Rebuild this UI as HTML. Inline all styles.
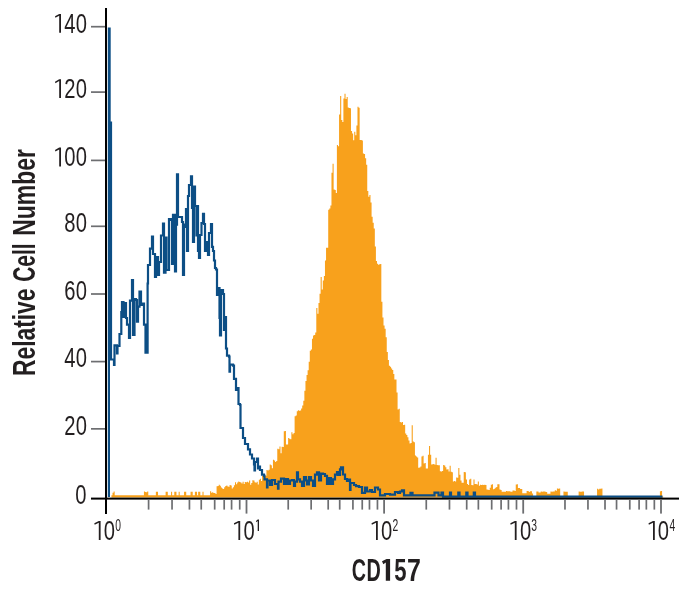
<!DOCTYPE html>
<html><head><meta charset="utf-8"><style>html,body{margin:0;padding:0;background:#fff;width:691px;height:595px;overflow:hidden}svg{display:block;will-change:transform}text{font-family:"Liberation Sans",sans-serif}</style></head><body>
<svg width="691" height="595" viewBox="0 0 691 595">
<rect width="691" height="595" fill="#fff"/>
<path d="M111.42,497.6 V495.3 H112.50 V492.7 H113.59 V491.6 H114.67 V495.3 H115.76 V495.3 H116.84 V495.3 H117.92 V495.3 H119.01 V495.3 H120.09 V495.3 H121.18 V495.3 H122.26 V495.3 H123.34 V495.3 H124.43 V495.3 H125.51 V495.3 H126.60 V495.3 H127.68 V495.3 H128.76 V495.3 H129.85 V495.3 H130.93 V495.3 H132.02 V495.3 H133.10 V495.3 H134.18 V495.3 H135.27 V495.3 H136.35 V495.3 H137.44 V495.3 H138.52 V495.3 H139.60 V495.3 H140.69 V495.3 H141.77 V495.3 H142.86 V495.3 H143.94 V491.5 H145.02 V491.9 H146.11 V492.2 H147.19 V491.5 H148.28 V495.3 H149.36 V495.3 H150.44 V495.3 H151.53 V495.3 H152.61 V495.3 H153.70 V495.3 H154.78 V495.3 H155.86 V491.8 H156.95 V491.8 H158.03 V495.3 H159.12 V495.3 H160.20 V495.3 H161.28 V495.3 H162.37 V495.3 H163.45 V495.3 H164.54 V495.3 H165.62 V491.8 H166.70 V491.8 H167.79 V495.3 H168.87 V495.3 H169.96 V495.3 H171.04 V491.8 H172.12 V495.3 H173.21 V495.3 H174.29 V491.8 H175.38 V491.8 H176.46 V495.3 H177.54 V495.3 H178.63 V491.8 H179.71 V495.3 H180.79 V495.3 H181.88 V495.3 H182.96 V495.3 H184.05 V491.8 H185.13 V491.8 H186.21 V495.3 H187.30 V495.3 H188.38 V495.3 H189.47 V495.3 H190.55 V491.8 H191.63 V491.8 H192.72 V495.3 H193.80 V495.3 H194.89 V491.8 H195.97 V491.8 H197.05 V495.3 H198.14 V491.8 H199.22 V491.8 H200.31 V495.2 H201.39 V495.3 H202.47 V491.8 H203.56 V495.3 H204.64 V495.3 H205.73 V495.3 H206.81 V495.3 H207.89 V495.3 H208.98 V495.3 H210.06 V491.3 H211.15 V492.8 H212.23 V492.2 H213.31 V492.9 H214.40 V492.9 H215.48 V494.1 H216.57 V486.3 H217.65 V485.9 H218.73 V484.8 H219.82 V485.7 H220.90 V487.6 H221.99 V488.4 H223.07 V489.0 H224.15 V487.3 H225.24 V486.1 H226.32 V485.6 H227.41 V486.5 H228.49 V486.7 H229.57 V485.0 H230.66 V485.4 H231.74 V488.5 H232.83 V487.2 H233.91 V485.2 H234.99 V482.3 H236.08 V484.3 H237.16 V482.5 H238.25 V481.6 H239.33 V482.1 H240.41 V482.5 H241.50 V483.4 H242.58 V481.8 H243.67 V483.9 H244.75 V481.9 H245.83 V482.2 H246.92 V481.7 H248.00 V482.4 H249.09 V480.4 H250.17 V484.7 H251.25 V482.9 H252.34 V480.2 H253.42 V480.4 H254.51 V482.2 H255.59 V482.8 H256.67 V481.8 H257.76 V484.6 H258.84 V479.7 H259.93 V478.8 H261.01 V481.0 H262.09 V476.0 H263.18 V475.8 H264.26 V476.0 H265.35 V475.8 H266.43 V469.9 H267.51 V470.4 H268.60 V469.7 H269.68 V464.4 H270.77 V465.3 H271.85 V468.3 H272.93 V459.8 H274.02 V460.6 H275.10 V462.1 H276.19 V460.9 H277.27 V448.8 H278.35 V449.2 H279.44 V446.5 H280.52 V453.2 H281.61 V446.7 H282.69 V447.0 H283.77 V431.2 H284.86 V431.0 H285.94 V444.4 H287.03 V444.5 H288.11 V438.0 H289.19 V438.8 H290.28 V439.2 H291.36 V432.3 H292.45 V434.3 H293.53 V432.9 H294.61 V416.2 H295.70 V415.6 H296.78 V411.3 H297.87 V410.3 H298.95 V410.8 H300.03 V410.4 H301.12 V408.5 H302.20 V405.5 H303.29 V400.7 H304.37 V390.8 H305.45 V381.1 H306.54 V375.1 H307.62 V370.3 H308.71 V361.7 H309.79 V350.7 H310.87 V349.6 H311.96 V338.7 H313.04 V335.4 H314.12 V334.9 H315.21 V332.4 H316.29 V308.0 H317.38 V313.8 H318.46 V303.0 H319.54 V293.8 H320.63 V276.9 H321.71 V289.6 H322.80 V280.4 H323.88 V276.1 H324.96 V260.6 H326.05 V247.7 H327.13 V247.7 H328.22 V209.7 H329.30 V208.4 H330.38 V205.5 H331.47 V172.8 H332.55 V163.7 H333.64 V189.5 H334.72 V190.1 H335.80 V193.0 H336.89 V145.0 H337.97 V146.3 H339.06 V114.6 H340.14 V96.0 H341.22 V120.0 H342.31 V122.1 H343.39 V98.4 H344.48 V93.8 H345.56 V99.1 H346.64 V97.1 H347.73 V107.4 H348.81 V107.9 H349.90 V108.3 H350.98 V131.0 H352.06 V133.5 H353.15 V140.2 H354.23 V131.8 H355.32 V135.3 H356.40 V125.5 H357.48 V106.7 H358.57 V107.7 H359.65 V140.0 H360.74 V140.1 H361.82 V140.6 H362.90 V153.5 H363.99 V153.9 H365.07 V158.3 H366.16 V164.8 H367.24 V191.1 H368.32 V196.7 H369.41 V194.9 H370.49 V202.4 H371.58 V216.8 H372.66 V222.7 H373.74 V228.5 H374.83 V246.4 H375.91 V260.9 H377.00 V263.7 H378.08 V264.8 H379.16 V264.3 H380.25 V264.1 H381.33 V301.7 H382.42 V317.4 H383.50 V325.6 H384.58 V328.7 H385.67 V337.2 H386.75 V352.0 H387.84 V360.0 H388.92 V365.7 H390.00 V366.8 H391.09 V368.4 H392.17 V370.0 H393.26 V374.1 H394.34 V379.6 H395.42 V379.5 H396.51 V392.5 H397.59 V409.4 H398.68 V408.8 H399.76 V422.0 H400.84 V422.4 H401.93 V422.1 H403.01 V424.9 H404.10 V424.8 H405.18 V433.5 H406.26 V435.1 H407.35 V437.2 H408.43 V440.6 H409.52 V443.4 H410.60 V442.9 H411.68 V425.3 H412.77 V441.4 H413.85 V442.3 H414.94 V455.5 H416.02 V456.4 H417.10 V457.6 H418.19 V467.7 H419.27 V467.6 H420.36 V466.5 H421.44 V456.5 H422.52 V455.7 H423.61 V463.5 H424.69 V462.9 H425.78 V468.6 H426.86 V468.5 H427.94 V454.8 H429.03 V445.9 H430.11 V454.7 H431.20 V464.5 H432.28 V464.2 H433.36 V464.0 H434.45 V464.8 H435.53 V457.7 H436.62 V464.9 H437.70 V465.2 H438.78 V465.3 H439.87 V471.3 H440.95 V471.4 H442.04 V470.9 H443.12 V465.1 H444.20 V465.4 H445.29 V467.3 H446.37 V469.4 H447.46 V469.3 H448.54 V471.5 H449.62 V465.8 H450.71 V471.8 H451.79 V472.3 H452.88 V481.5 H453.96 V481.0 H455.04 V481.4 H456.13 V477.4 H457.21 V477.7 H458.29 V468.0 H459.38 V474.7 H460.46 V480.4 H461.55 V482.7 H462.63 V482.7 H463.71 V472.1 H464.80 V472.2 H465.88 V479.4 H466.97 V483.9 H468.05 V484.9 H469.13 V479.5 H470.22 V478.7 H471.30 V485.1 H472.39 V485.3 H473.47 V479.5 H474.55 V484.1 H475.64 V483.9 H476.72 V484.6 H477.81 V481.6 H478.89 V485.8 H479.97 V484.8 H481.06 V484.9 H482.14 V484.7 H483.23 V485.1 H484.31 V484.8 H485.39 V485.0 H486.48 V489.5 H487.56 V489.7 H488.65 V489.9 H489.73 V487.7 H490.81 V484.7 H491.90 V484.2 H492.98 V489.2 H494.07 V488.8 H495.15 V487.7 H496.23 V487.1 H497.32 V484.3 H498.40 V484.3 H499.49 V489.5 H500.57 V489.9 H501.65 V491.7 H502.74 V491.7 H503.82 V491.7 H504.91 V491.7 H505.99 V491.1 H507.07 V491.2 H508.16 V491.2 H509.24 V491.2 H510.33 V491.7 H511.41 V491.7 H512.49 V490.5 H513.58 V490.4 H514.66 V490.9 H515.75 V484.4 H516.83 V484.3 H517.91 V488.1 H519.00 V488.0 H520.08 V488.9 H521.17 V489.0 H522.25 V493.2 H523.33 V493.2 H524.42 V493.2 H525.50 V493.2 H526.59 V491.0 H527.67 V491.1 H528.75 V492.0 H529.84 V491.3 H530.92 V491.3 H532.01 V493.5 H533.09 V496.0 H534.17 V496.0 H535.26 V496.0 H536.34 V491.6 H537.43 V491.5 H538.51 V492.6 H539.59 V492.6 H540.68 V491.4 H541.76 V491.7 H542.85 V491.6 H543.93 V491.5 H545.01 V491.7 H546.10 V491.9 H547.18 V493.7 H548.27 V493.7 H549.35 V493.7 H550.43 V491.4 H551.52 V491.8 H552.60 V491.6 H553.69 V491.5 H554.77 V490.3 H555.85 V490.7 H556.94 V488.6 H558.02 V488.8 H559.11 V488.5 H560.19 V496.0 H561.27 V496.0 H562.36 V496.0 H563.44 V491.4 H564.53 V491.7 H565.61 V491.7 H566.69 V491.8 H567.78 V496.0 H568.86 V496.0 H569.95 V496.0 H571.03 V496.0 H572.11 V496.0 H573.20 V496.0 H574.28 V496.0 H575.37 V496.0 H576.45 V496.0 H577.53 V496.0 H578.62 V491.6 H579.70 V491.7 H580.79 V491.7 H581.87 V491.5 H582.95 V491.6 H584.04 V496.0 H585.12 V496.0 H586.21 V496.0 H587.29 V496.0 H588.37 V496.0 H589.46 V496.0 H590.54 V496.0 H591.62 V496.0 H592.71 V496.0 H593.79 V496.0 H594.88 V496.0 H595.96 V496.0 H597.04 V488.7 H598.13 V489.4 H599.21 V488.7 H600.30 V488.7 H601.38 V488.6 H602.46 V496.5 H603.55 V496.5 H604.63 V496.5 H605.72 V496.5 H606.80 V496.5 H607.88 V496.5 H608.97 V496.5 H610.05 V496.5 H611.14 V496.5 H612.22 V496.5 H613.30 V496.5 H614.39 V496.5 H615.47 V496.5 H616.56 V496.5 H617.64 V496.5 H618.72 V496.5 H619.81 V496.5 H620.89 V496.5 H621.98 V496.5 H623.06 V496.5 H624.14 V496.5 H625.23 V496.5 H626.31 V496.5 H627.40 V496.5 H628.48 V496.5 H629.56 V496.5 H630.65 V496.5 H631.73 V496.5 H632.82 V496.5 H633.90 V496.5 H634.98 V496.5 H636.07 V496.5 H637.15 V496.5 H638.24 V496.5 H639.32 V496.5 H640.40 V496.5 H641.49 V496.5 H642.57 V496.5 H643.66 V496.5 H644.74 V496.5 H645.82 V496.5 H646.91 V496.5 H647.99 V496.5 H649.08 V496.5 H650.16 V496.5 H651.24 V496.5 H652.33 V496.5 H653.41 V496.5 H654.50 V496.5 H655.58 V496.5 H656.66 V496.5 H657.75 V496.5 H658.83 V496.5 H659.92 V491.2 H661.00 V491.1 H662.08 V496.5 H663.17 V497.6 Z" fill="#f8a11c"/>
<path d="M108.9,497 V28.5 H109.6 V122.6 H111 V359.5 H114 V364.9 H114.5 V345.4 H117 V353.4 H117.5 V346 H119.5 V334 H121.3 V312 H122 V302 H123.5 V317 H124.5 V303 H126 V318 H127 V324.7 H129 V338 H130 V300.6 H132 V280 H133 V335 H134.5 V299 H136 V300 H137 V321.7 H138 V306.6 H139.5 V291.5 H141 V305 H143 V303.6 H144 V324.7 H145.5 V352.7 H147.6 V283.5 H148 V265 H150 V248.6 H152 V236.6 H153 V254 H155 V277 H156 V257 H158 V275 H159 V262 H161 V235.5 H163 V223.5 H164 V272.6 H165.5 V237.7 H166.5 V270 H169 V219 H171 V220 H172 V264 H173 V214.8 H175 V271.5 H176 V224.6 H177 V174.4 H178 V217 H182 V222 H183 V274.8 H184 V224.6 H185 V226.8 H186 V209 H187 V251 H188 V196 H189 V185 H191 V176.4 H192 V208 H193 V242 H194 V186.6 H195 V206 H196.5 V235.5 H197 V206 H198 V251 H199 V258 H200 V235 H201.5 V223 H203 V213.9 H204 V224 H205 V251 H207 V242 H208 V254.8 H209 V233 H211 V224 H212 V246.8 H213 V251 H214 V260.5 H215 V268 H216 V269.5 H217 V295 H219 V288 H219.5 V318 H220 V335.4 H221 V290 H223 V294 H224 V330 H225 V317 H226 V348.5 H227 V355.6 H229 V356.6 H229.5 V371.7 H230 V364.7 H233 V365.7 H234 V378.8 H236 V390 H238 V388 H238.5 V404 H240 V405 H240.5 V428 H243 V438 H245 V444 H248 V449.4 H250 V454.5 H252 V458.5 H254 V464.5 H254.5 V470.5 H255 V462 H257 V458.5 H258 V468.5 H259 V466.6 H260 V470 H262 V474.7 H264 V475.8 H264.5 V479.3 H267 V487.4 H267.5 V480.5 H270 V485 H272 V480 H275 V484 H278 V488.6 H278.5 V481.6 H281 V478.7 H284 V484 H286 V479 H288 V484 H290 V480.5 H292 V480 H294 V486 H295 V481.6 H297 V472.4 H298 V479.3 H300 V481.6 H302 V486 H304 V477 H306 V480.5 H307 V484.5 H309 V477 H311 V480.5 H313 V486 H315 V474.7 H317 V472.4 H319 V480.5 H321 V473.5 H323 V474 H325 V475.8 H327 V484 H329 V478 H331 V484 H333 V479.3 H335 V474.7 H337 V472 H338 V475 H340 V469.3 H341 V467.4 H343 V474.5 H345 V479 H347 V481 H349 V479.7 H350 V490 H350.5 V483 H354 V485 H356 V486.2 H359 V487 H362 V492.8 H365 V487.5 H367 V491.5 H370 V490 H372 V492 H375 V487.5 H378 V489.5 H380 V495.4 H385 V494 H390 V494.7 H395 V492 H398 V492.8 H400 V491.5 H402 V490.3 H404 V495.3 H410.5 V492.8 H412.5 V495.3 H434.5 V492.6 H438.5 V495.3 H441.5 V492.6 H443 V496.7 H450 V492.6 H451 V496.7 H458.3 V492.6 H459.5 V496.7 H466.3 V492.6 H467.5 V496.7 H473.8 V492.6 H475 V496.7 H662.5" fill="none" stroke="#0c4e85" stroke-width="2.2" stroke-linejoin="miter"/>
<rect x="105" y="8" width="2" height="506" fill="#000"/>
<rect x="91" y="497.6" width="588" height="2" fill="#000"/>
<rect x="91" y="428.00" width="14" height="1.7" fill="#6d6e71"/>
<rect x="91" y="360.75" width="14" height="1.7" fill="#6d6e71"/>
<rect x="91" y="293.15" width="14" height="1.7" fill="#6d6e71"/>
<rect x="91" y="225.45" width="14" height="1.7" fill="#6d6e71"/>
<rect x="91" y="159.55" width="14" height="1.7" fill="#6d6e71"/>
<rect x="91" y="91.25" width="14" height="1.7" fill="#6d6e71"/>
<rect x="91" y="25.85" width="14" height="1.7" fill="#6d6e71"/>
<rect x="147.74" y="499.6" width="1.7" height="10" fill="#6d6e71"/>
<rect x="171.19" y="499.6" width="1.7" height="10" fill="#6d6e71"/>
<rect x="188.59" y="499.6" width="1.7" height="10" fill="#6d6e71"/>
<rect x="200.39" y="499.6" width="1.7" height="10" fill="#6d6e71"/>
<rect x="213.83" y="499.6" width="1.7" height="10" fill="#6d6e71"/>
<rect x="223.34" y="499.6" width="1.7" height="10" fill="#6d6e71"/>
<rect x="230.73" y="499.6" width="1.7" height="10" fill="#6d6e71"/>
<rect x="238.87" y="499.6" width="1.7" height="10" fill="#6d6e71"/>
<rect x="287.37" y="499.6" width="1.7" height="10" fill="#6d6e71"/>
<rect x="310.30" y="499.6" width="1.7" height="10" fill="#6d6e71"/>
<rect x="327.34" y="499.6" width="1.7" height="10" fill="#6d6e71"/>
<rect x="338.86" y="499.6" width="1.7" height="10" fill="#6d6e71"/>
<rect x="352.07" y="499.6" width="1.7" height="10" fill="#6d6e71"/>
<rect x="361.39" y="499.6" width="1.7" height="10" fill="#6d6e71"/>
<rect x="368.62" y="499.6" width="1.7" height="10" fill="#6d6e71"/>
<rect x="376.60" y="499.6" width="1.7" height="10" fill="#6d6e71"/>
<rect x="425.42" y="499.6" width="1.7" height="10" fill="#6d6e71"/>
<rect x="448.62" y="499.6" width="1.7" height="10" fill="#6d6e71"/>
<rect x="465.85" y="499.6" width="1.7" height="10" fill="#6d6e71"/>
<rect x="477.51" y="499.6" width="1.7" height="10" fill="#6d6e71"/>
<rect x="490.84" y="499.6" width="1.7" height="10" fill="#6d6e71"/>
<rect x="500.25" y="499.6" width="1.7" height="10" fill="#6d6e71"/>
<rect x="507.57" y="499.6" width="1.7" height="10" fill="#6d6e71"/>
<rect x="515.64" y="499.6" width="1.7" height="10" fill="#6d6e71"/>
<rect x="564.13" y="499.6" width="1.7" height="10" fill="#6d6e71"/>
<rect x="587.10" y="499.6" width="1.7" height="10" fill="#6d6e71"/>
<rect x="604.16" y="499.6" width="1.7" height="10" fill="#6d6e71"/>
<rect x="615.70" y="499.6" width="1.7" height="10" fill="#6d6e71"/>
<rect x="628.93" y="499.6" width="1.7" height="10" fill="#6d6e71"/>
<rect x="638.25" y="499.6" width="1.7" height="10" fill="#6d6e71"/>
<rect x="645.50" y="499.6" width="1.7" height="10" fill="#6d6e71"/>
<rect x="653.49" y="499.6" width="1.7" height="10" fill="#6d6e71"/>
<rect x="245.60" y="499.6" width="1.8" height="14" fill="#6d6e71"/>
<rect x="383.20" y="499.6" width="1.8" height="14" fill="#6d6e71"/>
<rect x="522.30" y="499.6" width="1.8" height="14" fill="#6d6e71"/>
<rect x="660.10" y="499.6" width="1.8" height="14" fill="#6d6e71"/>
<text transform="translate(80.90,503.50) scale(0.740,1)" text-anchor="middle" font-family="Liberation Sans" font-size="27.3" fill="#231f20">0</text>
<text transform="translate(69.80,434.65) scale(0.740,1)" text-anchor="middle" font-family="Liberation Sans" font-size="27.3" fill="#231f20">2</text>
<text transform="translate(81.30,434.65) scale(0.740,1)" text-anchor="middle" font-family="Liberation Sans" font-size="27.3" fill="#231f20">0</text>
<text transform="translate(69.80,367.40) scale(0.740,1)" text-anchor="middle" font-family="Liberation Sans" font-size="27.3" fill="#231f20">4</text>
<text transform="translate(81.30,367.40) scale(0.740,1)" text-anchor="middle" font-family="Liberation Sans" font-size="27.3" fill="#231f20">0</text>
<text transform="translate(69.80,299.80) scale(0.740,1)" text-anchor="middle" font-family="Liberation Sans" font-size="27.3" fill="#231f20">6</text>
<text transform="translate(81.30,299.80) scale(0.740,1)" text-anchor="middle" font-family="Liberation Sans" font-size="27.3" fill="#231f20">0</text>
<text transform="translate(69.80,232.10) scale(0.740,1)" text-anchor="middle" font-family="Liberation Sans" font-size="27.3" fill="#231f20">8</text>
<text transform="translate(81.30,232.10) scale(0.740,1)" text-anchor="middle" font-family="Liberation Sans" font-size="27.3" fill="#231f20">0</text>
<path d="M55.00,150.00 L59.20,147.60 L61.00,147.60 L61.00,166.40 L59.20,166.40 L59.20,149.40 L55.40,151.50 Z" fill="#231f20"/>
<text transform="translate(69.80,166.20) scale(0.740,1)" text-anchor="middle" font-family="Liberation Sans" font-size="27.3" fill="#231f20">0</text>
<text transform="translate(81.30,166.20) scale(0.740,1)" text-anchor="middle" font-family="Liberation Sans" font-size="27.3" fill="#231f20">0</text>
<path d="M55.00,81.70 L59.20,79.30 L61.00,79.30 L61.00,98.10 L59.20,98.10 L59.20,81.10 L55.40,83.20 Z" fill="#231f20"/>
<text transform="translate(69.80,97.90) scale(0.740,1)" text-anchor="middle" font-family="Liberation Sans" font-size="27.3" fill="#231f20">2</text>
<text transform="translate(81.30,97.90) scale(0.740,1)" text-anchor="middle" font-family="Liberation Sans" font-size="27.3" fill="#231f20">0</text>
<path d="M55.00,16.30 L59.20,13.90 L61.00,13.90 L61.00,32.70 L59.20,32.70 L59.20,15.70 L55.40,17.80 Z" fill="#231f20"/>
<text transform="translate(69.80,32.50) scale(0.740,1)" text-anchor="middle" font-family="Liberation Sans" font-size="27.3" fill="#231f20">4</text>
<text transform="translate(81.30,32.50) scale(0.740,1)" text-anchor="middle" font-family="Liberation Sans" font-size="27.3" fill="#231f20">0</text>
<path d="M94.30,523.30 L98.80,520.90 L100.60,520.90 L100.60,540.00 L98.80,540.00 L98.80,522.70 L94.70,524.80 Z" fill="#231f20"/>
<text transform="translate(109.25,539.60) scale(0.740,1)" text-anchor="middle" font-family="Liberation Sans" font-size="27.3" fill="#231f20">0</text>
<text transform="translate(118.10,531.10) scale(0.630,1)" text-anchor="middle" font-family="Liberation Sans" font-size="16.4" fill="#231f20">0</text>
<path d="M233.90,523.30 L238.40,520.90 L240.20,520.90 L240.20,540.00 L238.40,540.00 L238.40,522.70 L234.30,524.80 Z" fill="#231f20"/>
<text transform="translate(249.05,539.60) scale(0.740,1)" text-anchor="middle" font-family="Liberation Sans" font-size="27.3" fill="#231f20">0</text>
<path d="M256.00,521.10 L257.70,519.60 L259.00,519.60 L259.00,531.00 L257.70,531.00 L257.70,521.00 L256.40,522.20 Z" fill="#231f20"/>
<path d="M371.50,523.30 L376.00,520.90 L377.80,520.90 L377.80,540.00 L376.00,540.00 L376.00,522.70 L371.90,524.80 Z" fill="#231f20"/>
<text transform="translate(386.60,539.60) scale(0.740,1)" text-anchor="middle" font-family="Liberation Sans" font-size="27.3" fill="#231f20">0</text>
<text transform="translate(395.45,531.10) scale(0.630,1)" text-anchor="middle" font-family="Liberation Sans" font-size="16.4" fill="#231f20">2</text>
<path d="M510.30,523.30 L514.80,520.90 L516.60,520.90 L516.60,540.00 L514.80,540.00 L514.80,522.70 L510.70,524.80 Z" fill="#231f20"/>
<text transform="translate(525.70,539.60) scale(0.740,1)" text-anchor="middle" font-family="Liberation Sans" font-size="27.3" fill="#231f20">0</text>
<text transform="translate(534.00,531.10) scale(0.630,1)" text-anchor="middle" font-family="Liberation Sans" font-size="16.4" fill="#231f20">3</text>
<path d="M648.50,523.30 L653.00,520.90 L654.80,520.90 L654.80,540.00 L653.00,540.00 L653.00,522.70 L648.90,524.80 Z" fill="#231f20"/>
<text transform="translate(663.35,539.60) scale(0.740,1)" text-anchor="middle" font-family="Liberation Sans" font-size="27.3" fill="#231f20">0</text>
<text transform="translate(672.40,531.10) scale(0.630,1)" text-anchor="middle" font-family="Liberation Sans" font-size="16.4" fill="#231f20">4</text>
<text transform="translate(358.90,580.80) scale(0.615,1)" text-anchor="middle" font-family="Liberation Sans" font-weight="bold" font-size="32.0" fill="#231f20">C</text>
<text transform="translate(373.65,580.80) scale(0.620,1)" text-anchor="middle" font-family="Liberation Sans" font-weight="bold" font-size="32.0" fill="#231f20">D</text>
<path d="M382,561.3 L386.6,559 L390.1,559 L390.1,580.7 L385.8,580.7 L385.8,562.6 L383.3,564.2 Z" fill="#231f20"/>
<text transform="translate(400.30,580.80) scale(0.690,1)" text-anchor="middle" font-family="Liberation Sans" font-weight="bold" font-size="32.0" fill="#231f20">5</text>
<text transform="translate(413.85,580.80) scale(0.780,1)" text-anchor="middle" font-family="Liberation Sans" font-weight="bold" font-size="32.0" fill="#231f20">7</text>
<text transform="translate(34.8,376.00) rotate(-90)" x="0" y="0" font-family="Liberation Sans" font-weight="bold" font-size="31" fill="#231f20" textLength="87.5" lengthAdjust="spacingAndGlyphs">Relative</text>
<text transform="translate(34.8,281.80) rotate(-90)" x="0" y="0" font-family="Liberation Sans" font-weight="bold" font-size="31" fill="#231f20" textLength="38.5" lengthAdjust="spacingAndGlyphs">Cell</text>
<text transform="translate(34.8,235.80) rotate(-90)" x="0" y="0" font-family="Liberation Sans" font-weight="bold" font-size="31" fill="#231f20" textLength="86.8" lengthAdjust="spacingAndGlyphs">Number</text>
</svg>
</body></html>
